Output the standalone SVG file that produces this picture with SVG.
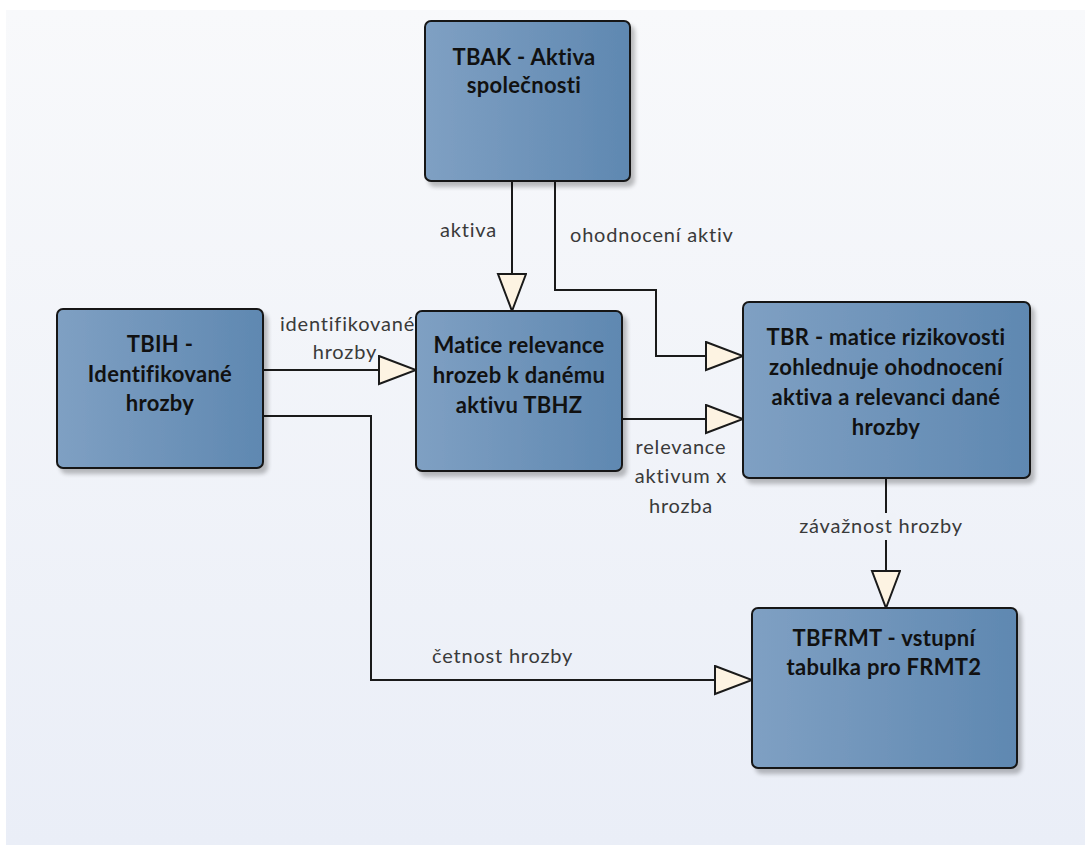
<svg xmlns="http://www.w3.org/2000/svg" width="1085" height="845" viewBox="0 0 1085 845">
  <defs>
    <linearGradient id="panel" x1="0" y1="0" x2="0" y2="1">
      <stop offset="0" stop-color="#f8f9fb"/>
      <stop offset="1" stop-color="#eaeef7"/>
    </linearGradient>
    <linearGradient id="box" x1="0" y1="0" x2="1" y2="0">
      <stop offset="0" stop-color="#7fa0c3"/>
      <stop offset="1" stop-color="#5f88b1"/>
    </linearGradient>
    <filter id="shadow" x="-10%" y="-10%" width="130%" height="130%">
      <feGaussianBlur in="SourceAlpha" stdDeviation="2"/>
      <feOffset dx="4" dy="5" result="b"/>
      <feComponentTransfer><feFuncA type="linear" slope="0.25"/></feComponentTransfer>
      <feMerge><feMergeNode/><feMergeNode in="SourceGraphic"/></feMerge>
    </filter>
    <marker id="tri" markerUnits="userSpaceOnUse" markerWidth="40" markerHeight="32" refX="38" refY="15" orient="auto">
      <path d="M1,1 L38,15 L1,29 Z" fill="#fdf3e2" stroke="#1a1a1a" stroke-width="2" stroke-linejoin="miter"/>
    </marker>
  </defs>
  <style>
    .node rect { fill: url(#box); stroke: #151515; stroke-width: 2; filter: url(#shadow); }
    .node text { font-family: Lato, "Open Sans", sans-serif; font-weight: bold; font-size: 22px; letter-spacing: 0.3px; fill: #111; text-anchor: middle; }
    .edge { fill: none; stroke: #1a1a1a; stroke-width: 2; marker-end: url(#tri); }
    .lbl { font-family: Lato, "Open Sans", sans-serif; font-size: 20px; letter-spacing: 0.8px; fill: #3a3a3a; }
  </style>

  <rect x="0" y="0" width="1085" height="845" fill="#ffffff"/>
  <rect x="6" y="10" width="1079" height="835" fill="url(#panel)"/>

  <!-- connectors -->
  <g id="connectors">
    <path class="edge" d="M512,181 L512,311"/>
    <path class="edge" d="M555,181 L555,290 L656,290 L656,356 L743,356"/>
    <path class="edge" d="M263,370 L416,370"/>
    <path class="edge" d="M622,419 L743,419"/>
    <path class="edge" d="M263,416 L371,416 L371,680 L752,680"/>
    <path class="edge" d="M886,478 L886,608"/>
    <rect x="876" y="513" width="20" height="27" fill="#eff2f8"/>

    <text class="lbl" x="440" y="237">aktiva</text>
    <text class="lbl" x="570" y="242">ohodnocení aktiv</text>
    <text class="lbl" x="415" y="331" text-anchor="end">identifikované</text>
    <text class="lbl" x="377" y="359" text-anchor="end">hrozby</text>
    <text class="lbl" x="681" y="454" text-anchor="middle">relevance</text>
    <text class="lbl" x="681" y="483" text-anchor="middle">aktivum x</text>
    <text class="lbl" x="681" y="513" text-anchor="middle">hrozba</text>
    <text class="lbl" x="881" y="533" text-anchor="middle">závažnost hrozby</text>
    <text class="lbl" x="432" y="663">četnost hrozby</text>
  </g>

  <!-- nodes -->
  <g id="tbak" class="node">
    <rect x="425" y="21" width="205" height="160" rx="6"/>
    <text x="524" y="65">TBAK - Aktiva</text>
    <text x="524" y="93">společnosti</text>
  </g>
  <g id="tbih" class="node">
    <rect x="57" y="309" width="206" height="159" rx="6"/>
    <text x="160" y="352">TBIH -</text>
    <text x="160" y="382">Identifikované</text>
    <text x="160" y="411">hrozby</text>
  </g>
  <g id="tbhz" class="node">
    <rect x="416" y="311" width="206" height="160" rx="6"/>
    <text x="519" y="353">Matice relevance</text>
    <text x="519" y="383">hrozeb k danému</text>
    <text x="519" y="413">aktivu TBHZ</text>
  </g>
  <g id="tbr" class="node">
    <rect x="743" y="302" width="287" height="176" rx="6"/>
    <text x="886" y="345">TBR - matice rizikovosti</text>
    <text x="886" y="375">zohlednuje ohodnocení</text>
    <text x="886" y="405">aktiva a relevanci dané</text>
    <text x="886" y="435">hrozby</text>
  </g>
  <g id="tbfrmt" class="node">
    <rect x="752" y="608" width="265" height="160" rx="6"/>
    <text x="884" y="646">TBFRMT - vstupní</text>
    <text x="884" y="675">tabulka pro FRMT2</text>
  </g>
</svg>
